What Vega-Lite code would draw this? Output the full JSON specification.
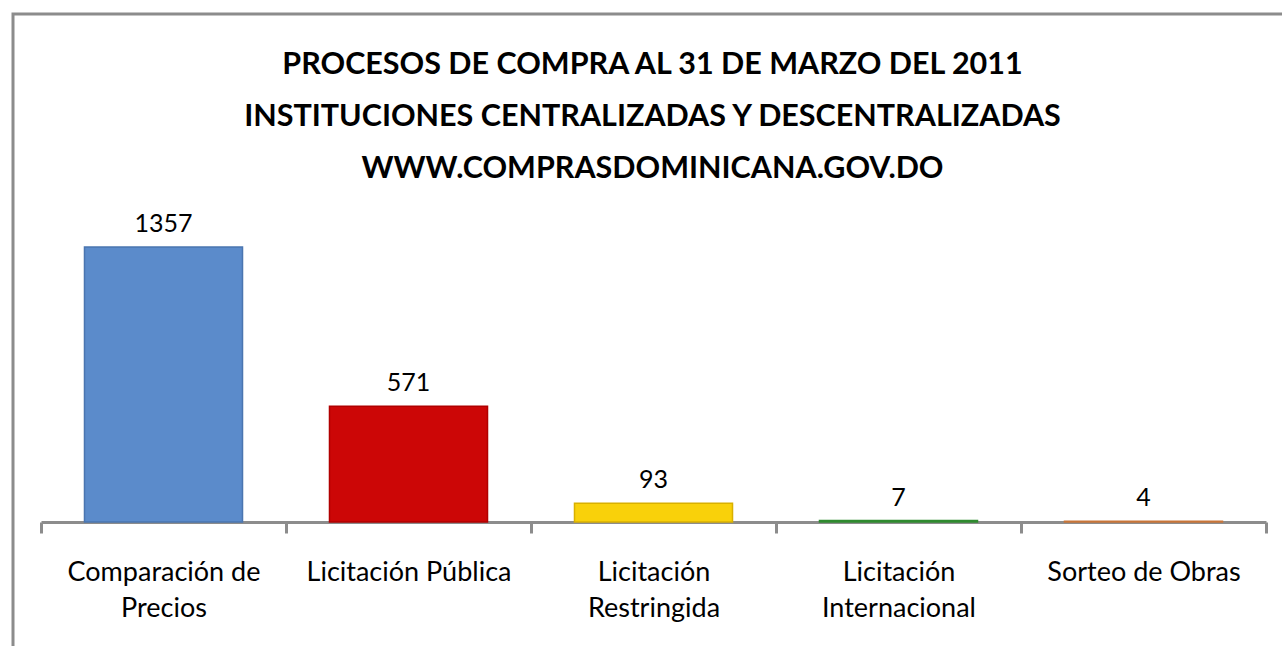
{
  "$schema": "https://vega.github.io/schema/vega-lite/v6.json",
  "autosize": "none",
  "padding": {"left": 13, "top": 14, "right": 0, "bottom": 0},
  "width": 1279,
  "height": 642,
  "background": "white",
  "title": {
    "text": ["PROCESOS DE COMPRA AL 31 DE MARZO DEL 2011", "INSTITUCIONES CENTRALIZADAS Y DESCENTRALIZADAS", "WWW.COMPRASDOMINICANA.GOV.DO"],
    "font": "Lato",
    "fontSize": 30.5,
    "fontWeight": "bold",
    "color": "black",
    "lineHeight": 52,
    "anchor": "middle",
    "frame": "group",
    "baseline": "alphabetic",
    "offset": -194
  },
  "data": {
    "values": [
      {"tipo": "Comparación de Precios", "procesos": 1357},
      {"tipo": "Licitación Pública", "procesos": 571},
      {"tipo": "Licitación Restringida", "procesos": 93},
      {"tipo": "Licitación Internacional", "procesos": 7},
      {"tipo": "Sorteo de Obras", "procesos": 4}
    ]
  },
  "encoding": {
    "x": {
      "field": "tipo",
      "type": "nominal",
      "sort": null,
      "scale": {"type": "band", "range": [28, 1253], "paddingInner": 0, "paddingOuter": 0},
      "axis": {
        "title": null,
        "orient": "bottom",
        "offset": -134,
        "labelAngle": 0,
        "labelFont": "Lato",
        "labelFontSize": 27,
        "labelColor": "black",
        "labelLineHeight": 36,
        "labelPadding": 26,
        "labelLimit": 0,
        "labelExpr": "datum.value == 'Comparación de Precios' ? ['Comparación de', 'Precios'] : datum.value == 'Licitación Restringida' ? ['Licitación', 'Restringida'] : datum.value == 'Licitación Internacional' ? ['Licitación', 'Internacional'] : datum.value",
        "domainColor": "#8c8c8c",
        "domainWidth": 3,
        "tickColor": "#8c8c8c",
        "tickWidth": 3,
        "tickSize": 11,
        "tickBand": "extent",
        "labelBound": false,
        "labelOverlap": false
      }
    },
    "y": {
      "field": "procesos",
      "type": "quantitative",
      "scale": {"domain": [0, 1357], "range": [508, 233], "nice": false, "zero": true},
      "axis": null
    }
  },
  "layer": [
    {
      "mark": {"type": "bar", "width": {"band": 0.645}, "strokeWidth": 1.5},
      "encoding": {
        "color": {
          "field": "tipo",
          "type": "nominal",
          "sort": null,
          "scale": {
            "domain": ["Comparación de Precios", "Licitación Pública", "Licitación Restringida", "Licitación Internacional", "Sorteo de Obras"],
            "range": ["#5b8bcb", "#cc0606", "#f9d10a", "#3e9b3e", "#df8c52"]
          },
          "legend": null
        },
        "stroke": {
          "field": "tipo",
          "type": "nominal",
          "sort": null,
          "scale": {
            "domain": ["Comparación de Precios", "Licitación Pública", "Licitación Restringida", "Licitación Internacional", "Sorteo de Obras"],
            "range": ["#4a75b0", "#b00000", "#d9b000", "#2f8a2f", "#c87538"]
          },
          "legend": null
        }
      }
    },
    {
      "mark": {"type": "text", "baseline": "alphabetic", "dy": -15, "font": "Lato", "fontSize": 25, "color": "black"},
      "encoding": {
        "text": {"field": "procesos", "type": "quantitative"}
      }
    }
  ],
  "config": {
    "view": {"stroke": "#8c8c8c", "strokeWidth": 3}
  }
}
